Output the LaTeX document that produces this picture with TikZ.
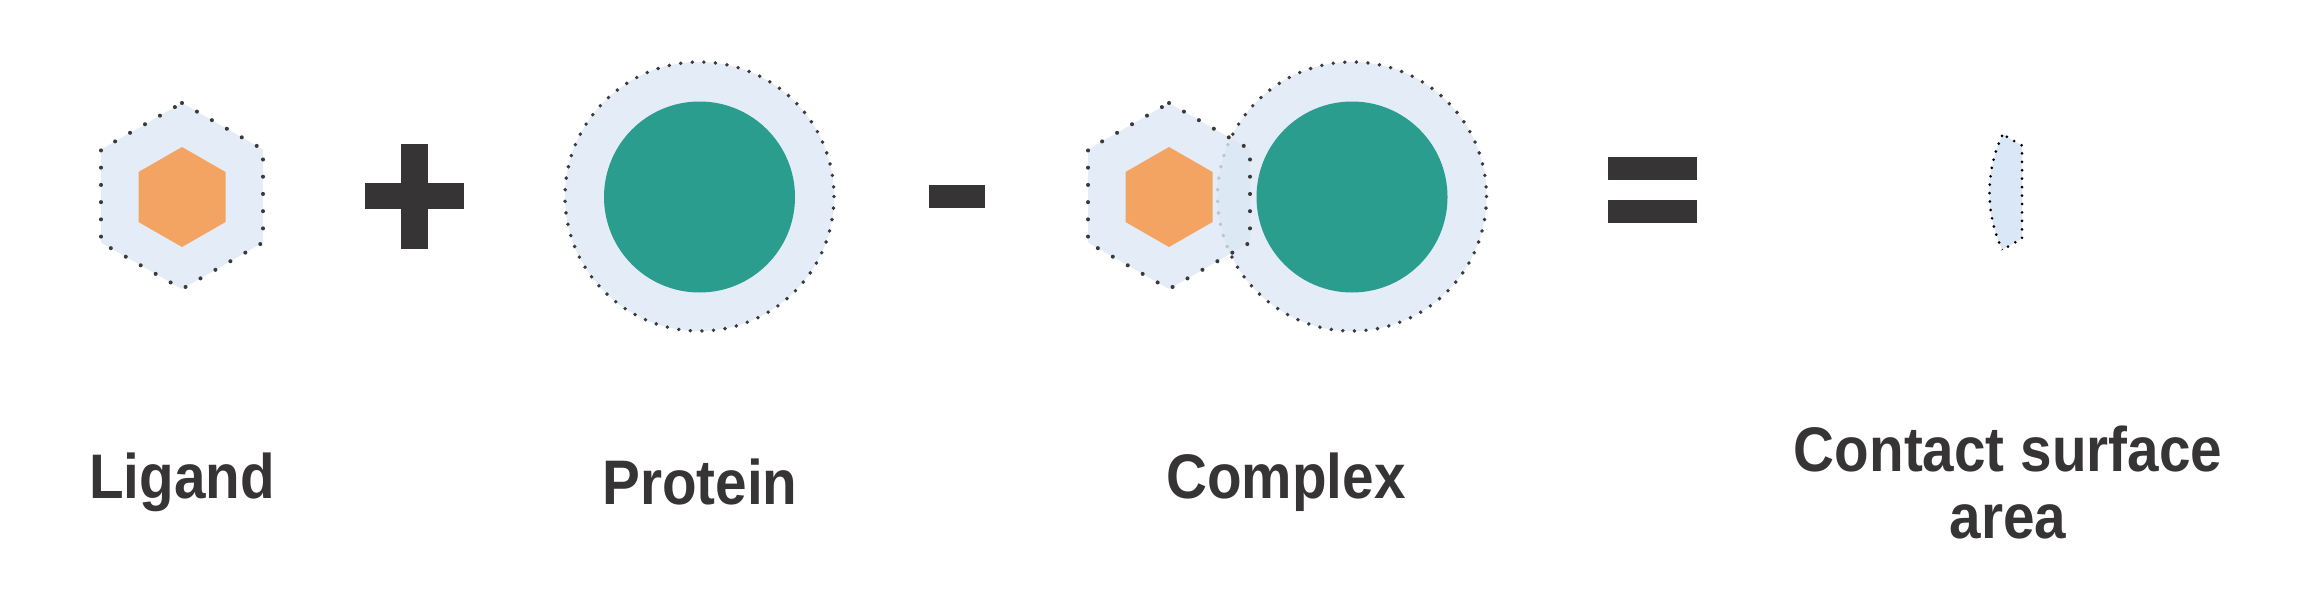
\documentclass[tikz,border=0pt]{standalone}
\usepackage{fontspec}
\setmainfont[FakeStretch=0.9]{Liberation Sans}
\usepackage{tikz}
\usepackage{xcolor}

\definecolor{shell}{HTML}{E3ECF7}
\definecolor{hexshell}{HTML}{DCE7F5}
\definecolor{lensfill}{HTML}{DAE7F6}
\definecolor{ligandcol}{HTML}{F3A462}
\definecolor{proteincol}{HTML}{2A9D8F}
\definecolor{ink}{HTML}{363435}
\definecolor{dotcol}{HTML}{3A3A3A}

\newcommand{\bighex}{(0,-93) -- (81,-46.5) -- (81,46.5) -- (0,93) -- (-81,46.5) -- (-81,-46.5) -- cycle}
\newcommand{\smallhex}{(0,-50) -- (43.5,-25) -- (43.5,25) -- (0,50) -- (-43.5,25) -- (-43.5,-25) -- cycle}

\begin{document}
\begin{tikzpicture}[x=0.01cm,y=-0.01cm,
  hexdots/.style={draw=dotcol,line width=1.15pt,line cap=round,dash pattern=on 0pt off 4.9pt},
  circdots/.style={draw=dotcol,line width=1.1pt,line cap=round,dash pattern=on 0pt off 3.3pt},
  lensdots/.style={draw=black,line width=0.85pt,line cap=round,dash pattern=on 0pt off 2.4pt},
  nametext/.style={font=\bfseries\fontsize{17.9}{19}\selectfont,text=ink,inner sep=0pt}]
\useasboundingbox (0,0) rectangle (2316,597);

% ligand
\path[shift={(182,196)},fill=shell,hexdots] \bighex;
\fill[shift={(182,197)},ligandcol] \smallhex;

% plus
\fill[ink] (401,144) rectangle (428,249);
\fill[ink] (365,183) rectangle (464,209);

% protein
\path[fill=shell,circdots] (699.5,196.5) circle (134.5);
\fill[proteincol] (699.5,197) circle (95.5);

% minus
\fill[ink] (929,185) rectangle (985,208);

% complex
\path[fill=shell,circdots] (1352,196.5) circle (134.5);
\fill[proteincol] (1352,197) circle (95.5);
\path[shift={(1169,196)},fill=hexshell,fill opacity=0.8,hexdots] \bighex;
\fill[shift={(1169,197)},ligandcol] \smallhex;

% equals
\fill[ink] (1608,157) rectangle (1697,180);
\fill[ink] (1608,200) rectangle (1697,223);

% contact surface
\begin{scope}[shift={(772,-4)}]
  \begin{scope}
    \clip[shift={(1169,196)}] \bighex;
    \path[fill=lensfill] (1352,196.5) circle (134.5);
    \path[lensdots] (1352,196.5) circle (134.5);
  \end{scope}
  \begin{scope}
    \clip (1352,196.5) circle (134.5);
    \path[shift={(1169,196)},lensdots] \bighex;
  \end{scope}
\end{scope}

\node[nametext,anchor=base] (ligand) at (182,498) {Ligand};
\node[nametext,anchor=base] (protein) at (700,504) {Protein};
\node[nametext,anchor=base] (complex) at (1286,498) {Complex};
\node[nametext,anchor=base,align=center] (contact) at (2008,538) {Contact surface\\area};

\end{tikzpicture}
\end{document}
